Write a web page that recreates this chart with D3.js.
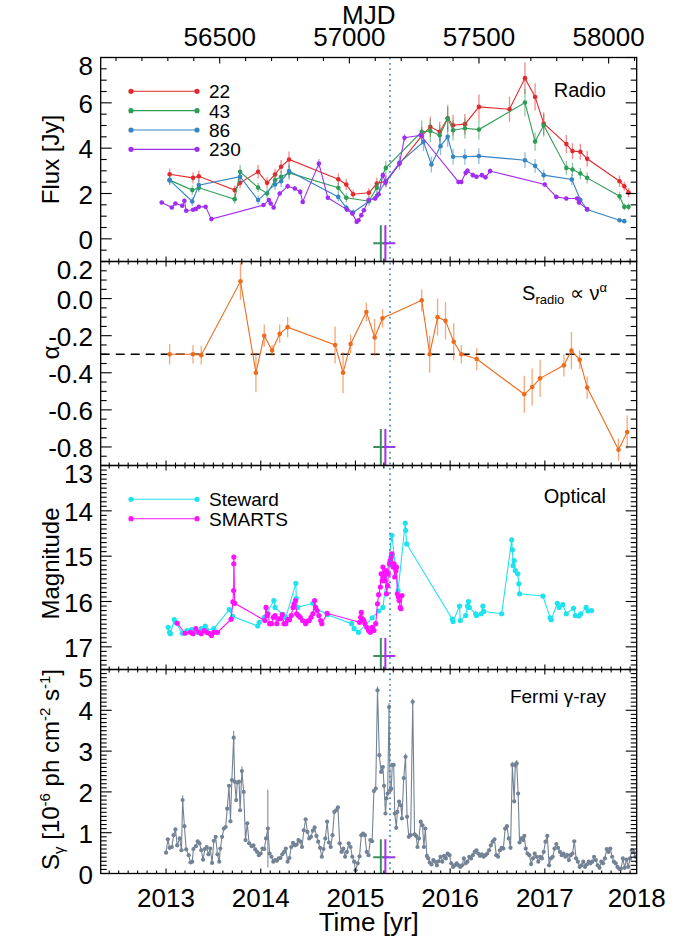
<!DOCTYPE html>
<html lang="en">
<head>
<meta charset="UTF-8">
<title>Radio / optical / gamma light curves</title>
<script src="https://d3js.org/d3.v7.min.js"></script>
<style>
  body { margin: 0; background: #fff; }
  svg { display: block; font-family: "Liberation Sans", Arial, Helvetica, sans-serif; }
  .frame { fill: none; stroke: #000; stroke-width: 1.3; }
  .tick { stroke: #000; stroke-width: 1.1; }
  .ticklabel { font-size: 26px; fill: #000; }
  .ytitle { font-size: 24px; fill: #000; }
  .plabel { font-size: 20px; fill: #000; }
  .leg { font-size: 19px; fill: #000; }
</style>
</head>
<body>
<svg width="691" height="941"></svg>
<script>
// ---- data: [year, value, error] ----
const radio22 = [[2013.038,2.85,0.25],[2013.285,2.69,0.25],[2013.346,2.76,0.25],[2013.725,2.15,0.2],[2013.782,2.47,0.25],
  [2013.972,2.96,0.3],[2014.067,2.47,0.25],[2014.151,2.84,0.25],[2014.215,3.18,0.3],[2014.299,3.50,0.35],
  [2014.819,2.63,0.25],[2014.903,2.40,0.25],[2014.975,1.97,0.2],[2015.142,2.03,0.2],[2015.226,2.44,0.25],
  [2015.321,2.54,0.25],[2015.700,4.54,0.4],[2015.791,4.94,0.45],[2015.890,4.72,0.45],[2015.974,5.32,0.5],
  [2016.031,5.01,0.45],[2016.156,5.06,0.45],[2016.304,5.82,0.55],[2016.627,5.72,0.55],[2016.790,7.09,0.7],
  [2016.897,6.26,0.6],[2016.988,5.09,0.5],[2017.227,4.18,0.4],[2017.292,3.87,0.35],[2017.375,3.84,0.35],
  [2017.447,3.53,0.35],[2017.789,2.54,0.25],[2017.839,2.32,0.2],[2017.884,2.04,0.2]];
const radio43 = [[2013.038,2.59,0.2],[2013.277,2.15,0.2],[2013.346,2.25,0.2],[2013.725,1.75,0.2],[2013.782,2.96,0.3],
  [2013.972,2.26,0.2],[2014.067,2.00,0.2],[2014.151,2.59,0.25],[2014.215,2.74,0.25],[2014.299,2.91,0.3],
  [2014.819,2.25,0.2],[2014.903,1.81,0.2],[2015.142,1.66,0.2],[2015.226,2.25,0.2],[2015.321,3.13,0.3],
  [2015.700,4.72,0.5],[2015.791,4.76,0.5],[2015.890,4.57,0.45],[2015.974,5.31,0.6],[2016.031,4.79,0.45],
  [2016.156,4.88,0.45],[2016.304,4.82,0.45],[2016.790,6.01,0.6],[2016.897,4.29,0.4],[2016.988,5.01,0.5],
  [2017.227,3.13,0.3],[2017.292,3.06,0.3],[2017.375,2.88,0.25],[2017.447,2.69,0.25],[2017.789,1.88,0.2],
  [2017.839,1.41,0.15],[2017.884,1.41,0.15]];
const radio86 = [[2013.038,2.59,0.2],[2013.277,1.65,0.2],[2013.346,2.37,0.25],[2013.782,2.74,0.25],[2013.972,1.71,0.2],
  [2014.151,2.40,0.25],[2014.215,2.54,0.25],[2014.299,2.99,0.3],[2014.819,1.85,0.2],[2014.903,1.37,0.15],
  [2014.975,1.16,0.15],[2015.226,1.90,0.2],[2015.321,2.54,0.25],[2015.465,3.35,0.3],[2015.719,4.28,0.4],
  [2015.802,3.28,0.35],[2015.898,4.09,0.4],[2015.974,4.50,0.45],[2016.031,3.62,0.35],[2016.156,3.62,0.35],
  [2016.304,3.65,0.35],[2016.790,3.47,0.35],[2016.897,3.22,0.3],[2016.988,2.81,0.25],[2017.285,2.62,0.25],
  [2017.375,1.71,0.15],[2017.447,1.29,0.1],[2017.789,0.82,0.05],[2017.839,0.78,0.05]];
const radio230 = [[2012.954,1.60,0.08],[2013.061,1.38,0.08],[2013.099,1.56,0.08],[2013.171,1.46,0.08],[2013.194,1.68,0.1],
  [2013.213,1.24,0.08],[2013.285,1.28,0.08],[2013.315,1.32,0.08],[2013.346,1.41,0.08],[2013.418,1.41,0.08],
  [2013.479,0.87,0.06],[2014.029,1.49,0.08],[2014.086,1.71,0.1],[2014.105,1.56,0.1],[2014.136,1.38,0.1],
  [2014.200,2.00,0.1],[2014.284,2.32,0.12],[2014.360,2.22,0.1],[2014.417,2.07,0.12],[2014.443,1.63,0.1],
  [2014.614,3.32,0.2],[2014.709,1.81,0.1],[2014.910,1.29,0.08],[2014.967,1.12,0.08],[2015.013,0.75,0.08],
  [2015.032,0.82,0.08],[2015.062,1.04,0.1],[2015.089,1.26,0.1],[2015.138,1.71,0.1],[2015.207,1.78,0.1],
  [2015.245,1.97,0.1],[2015.290,2.81,0.12],[2015.317,2.47,0.12],[2015.465,3.32,0.15],[2015.518,4.46,0.15],
  [2015.689,4.57,0.15],[2016.088,2.51,0.1],[2016.118,2.51,0.1],[2016.164,2.91,0.12],[2016.183,3.00,0.12],
  [2016.240,2.81,0.1],[2016.278,2.74,0.1],[2016.335,2.81,0.1],[2016.373,2.72,0.1],[2016.422,2.99,0.12],
  [2016.999,2.40,0.1],[2017.121,1.85,0.08],[2017.227,1.78,0.08],[2017.341,1.78,0.08],[2017.360,1.60,0.1],
  [2017.447,1.31,0.08]];
const radioBands = ["22", "43", "86", "230"];

const alphaData = [[2013.038,-0.30,0.055],[2013.285,-0.30,0.05],[2013.372,-0.305,0.05],[2013.786,0.093,0.1],
  [2013.949,-0.40,0.105],[2014.037,-0.20,0.06],[2014.120,-0.28,0.03],[2014.200,-0.19,0.05],[2014.284,-0.154,0.055],
  [2014.785,-0.25,0.1],[2014.869,-0.40,0.11],[2014.949,-0.245,0.05],[2015.115,-0.072,0.05],[2015.203,-0.21,0.1],
  [2015.286,-0.106,0.05],[2015.700,-0.009,0.06],[2015.784,-0.30,0.1],[2015.867,-0.10,0.1],[2015.951,-0.12,0.1],
  [2016.038,-0.233,0.1],[2016.118,-0.30,0.05],[2016.281,-0.326,0.06],[2016.783,-0.516,0.1],[2016.866,-0.477,0.1],
  [2016.950,-0.43,0.1],[2017.201,-0.36,0.06],[2017.281,-0.28,0.1],[2017.368,-0.33,0.05],[2017.447,-0.48,0.06],
  [2017.778,-0.815,0.06],[2017.869,-0.72,0.09]];
const alphaRef = -0.3;

const steward = [[2013.023,16.57],[2013.038,16.68],[2013.046,16.71],[2013.087,16.40],[2013.103,16.46],[2013.171,16.70],
  [2013.220,16.64],[2013.270,16.62],[2013.334,16.68],[2013.372,16.60],[2013.414,16.54],[2013.425,16.62],
  [2013.505,16.60],[2013.668,16.18],[2013.703,16.33],[2013.968,16.54],[2013.984,16.46],[2014.037,16.35],
  [2014.139,15.98],[2014.151,16.13],[2014.234,16.29],[2014.265,16.35],[2014.371,15.60],[2014.375,15.93],
  [2014.390,16.13],[2014.550,16.04],[2014.580,16.15],[2014.705,16.29],[2014.960,16.49],[2014.986,16.60],
  [2015.032,16.68],[2015.176,16.36],[2015.245,16.21],[2015.290,16.13],[2015.385,14.54],[2015.450,15.76],
  [2015.526,14.27],[2015.530,14.43],[2015.541,14.73],[2016.023,16.39],[2016.031,16.44],[2016.099,16.10],
  [2016.107,16.42],[2016.164,16.31],[2016.183,16.10],[2016.194,16.00],[2016.202,16.13],[2016.270,16.27],
  [2016.278,16.31],[2016.327,16.27],[2016.346,16.10],[2016.354,16.22],[2016.544,16.27],[2016.650,14.64],
  [2016.657,14.86],[2016.665,15.21],[2016.676,15.10],[2016.688,15.32],[2016.714,15.39],[2016.726,15.61],
  [2016.733,15.83],[2016.980,15.88],[2017.056,16.36],[2017.068,16.40],[2017.132,16.04],[2017.151,16.13],
  [2017.189,16.07],[2017.227,16.27],[2017.303,16.15],[2017.322,16.31],[2017.360,16.32],[2017.379,16.27],
  [2017.436,16.13],[2017.455,16.21],[2017.493,16.20]];
const smarts = [[2013.118,16.48],[2013.201,16.70],[2013.258,16.68],[2013.285,16.71],[2013.315,16.60],[2013.346,16.68],
  [2013.372,16.71],[2013.403,16.64],[2013.429,16.68],[2013.456,16.70],[2013.479,16.75],[2013.505,16.68],
  [2013.543,16.68],[2013.687,16.39],[2013.706,16.01],[2013.714,15.76],[2013.715,15.17],[2013.716,15.02],
  [2013.725,16.04],[2014.044,16.42],[2014.056,16.13],[2014.067,16.31],[2014.075,16.27],[2014.094,16.49],
  [2014.113,16.49],[2014.132,16.35],[2014.151,16.31],[2014.170,16.49],[2014.189,16.38],[2014.208,16.38],
  [2014.227,16.29],[2014.246,16.49],[2014.265,16.49],[2014.284,16.40],[2014.303,16.40],[2014.322,16.31],
  [2014.341,16.13],[2014.352,16.05],[2014.367,15.98],[2014.379,16.27],[2014.398,16.31],[2014.417,16.35],
  [2014.443,16.42],[2014.474,16.49],[2014.493,16.43],[2014.512,16.42],[2014.531,16.35],[2014.550,16.27],
  [2014.569,15.98],[2014.580,16.13],[2014.595,16.20],[2014.614,16.31],[2014.633,16.42],[2014.645,16.49],
  [2014.701,16.26],[2015.043,16.46],[2015.055,16.35],[2015.062,16.24],[2015.074,16.38],[2015.089,16.42],
  [2015.100,16.49],[2015.119,16.57],[2015.138,16.64],[2015.157,16.68],[2015.176,16.57],[2015.195,16.64],
  [2015.214,16.49],[2015.233,16.05],[2015.245,15.85],[2015.263,15.68],[2015.271,15.39],[2015.283,15.54],
  [2015.290,15.24],[2015.302,15.43],[2015.309,15.54],[2015.321,15.32],[2015.328,15.83],[2015.340,15.65],
  [2015.347,15.39],[2015.359,15.17],[2015.366,15.10],[2015.378,15.02],[2015.385,14.95],[2015.397,15.24],
  [2015.408,15.17],[2015.415,15.46],[2015.427,15.32],[2015.434,15.24],[2015.442,15.83],[2015.453,15.90],
  [2015.461,15.98],[2015.473,16.13],[2015.480,16.16],[2015.491,15.87]];

const gammaData = [[2013.000,0.51],[2013.019,0.84],[2013.038,0.63],[2013.061,0.65],[2013.080,0.94],[2013.099,1.08],[2013.118,0.69],[2013.144,0.86],[2013.163,0.57],[2013.175,1.80],[2013.194,1.16],[2013.213,0.59],[2013.239,0.45],[2013.258,0.27],[2013.277,0.29],[2013.289,0.60],[2013.315,0.67],[2013.334,0.79],[2013.353,0.74],[2013.372,0.57],[2013.391,0.34],[2013.410,0.60],[2013.429,0.65],[2013.448,0.47],[2013.467,0.61],[2013.486,0.26],[2013.505,0.80],[2013.524,0.90],[2013.543,0.47],[2013.562,0.29],[2013.573,0.61],[2013.592,0.90],[2013.611,1.10],[2013.630,1.14],[2013.646,1.59],[2013.665,2.15],[2013.680,1.28],[2013.695,2.29],[2013.714,3.33],[2013.725,2.25],[2013.741,1.80],[2013.752,2.23],[2013.771,2.25],[2013.782,1.55],[2013.801,2.51],[2013.820,2.00],[2013.839,0.82],[2013.858,1.23],[2013.877,0.74],[2013.904,0.67],[2013.923,0.69],[2013.942,0.59],[2013.961,0.53],[2013.980,0.45],[2013.999,0.49],[2014.018,0.61],[2014.037,0.60],[2014.056,0.86],[2014.075,1.10],[2014.094,0.49],[2014.113,0.41],[2014.132,0.29],[2014.151,0.33],[2014.170,0.31],[2014.189,0.37],[2014.208,0.38],[2014.227,0.47],[2014.246,0.53],[2014.265,0.61],[2014.284,0.29],[2014.303,0.38],[2014.322,0.65],[2014.341,0.75],[2014.360,0.69],[2014.379,0.71],[2014.398,0.82],[2014.417,0.78],[2014.436,0.65],[2014.455,1.06],[2014.474,1.33],[2014.493,1.02],[2014.512,0.86],[2014.531,0.90],[2014.550,1.05],[2014.569,1.13],[2014.588,0.92],[2014.607,0.78],[2014.626,0.63],[2014.645,0.41],[2014.663,0.60],[2014.682,0.86],[2014.701,1.27],[2014.720,0.76],[2014.739,0.65],[2014.758,0.94],[2014.777,1.51],[2014.796,1.55],[2014.815,1.62],[2014.834,0.74],[2014.853,0.53],[2014.872,0.61],[2014.891,0.41],[2014.910,0.53],[2014.929,0.74],[2014.948,0.65],[2014.967,0.41],[2014.986,0.29],[2015.001,0.08],[2015.024,0.25],[2015.043,0.42],[2015.062,0.94],[2015.081,0.98],[2015.100,0.94],[2015.119,0.53],[2015.138,0.45],[2015.157,0.82],[2015.176,0.79],[2015.195,2.02],[2015.214,2.08],[2015.233,4.49],[2015.252,2.90],[2015.271,2.49],[2015.290,2.61],[2015.302,2.15],[2015.317,1.47],[2015.328,1.84],[2015.340,1.96],[2015.355,4.08],[2015.366,2.04],[2015.378,2.08],[2015.389,2.66],[2015.404,2.66],[2015.415,1.47],[2015.431,1.12],[2015.442,1.51],[2015.461,1.76],[2015.480,1.67],[2015.491,1.35],[2015.510,2.34],[2015.529,2.86],[2015.545,1.39],[2015.564,0.90],[2015.583,0.94],[2015.605,4.21],[2015.624,0.96],[2015.640,0.92],[2015.655,0.65],[2015.670,0.86],[2015.689,1.27],[2015.708,1.18],[2015.723,0.65],[2015.738,1.10],[2015.754,0.43],[2015.769,0.37],[2015.784,0.27],[2015.803,0.22],[2015.822,0.33],[2015.841,0.29],[2015.860,0.20],[2015.879,0.30],[2015.898,0.41],[2015.917,0.29],[2015.936,0.43],[2015.955,0.37],[2015.974,0.49],[2015.993,0.45],[2016.012,0.25],[2016.031,0.16],[2016.050,0.20],[2016.069,0.25],[2016.088,0.20],[2016.107,0.16],[2016.126,0.20],[2016.145,0.37],[2016.164,0.25],[2016.183,0.29],[2016.202,0.41],[2016.221,0.37],[2016.240,0.45],[2016.259,0.53],[2016.278,0.57],[2016.297,0.49],[2016.316,0.43],[2016.335,0.47],[2016.354,0.41],[2016.373,0.45],[2016.392,0.49],[2016.411,0.57],[2016.430,0.69],[2016.449,0.78],[2016.468,0.84],[2016.487,0.45],[2016.506,0.41],[2016.525,0.57],[2016.544,0.63],[2016.562,0.61],[2016.581,1.10],[2016.600,1.16],[2016.619,0.86],[2016.638,0.63],[2016.657,2.66],[2016.676,1.77],[2016.688,2.66],[2016.703,2.70],[2016.718,1.96],[2016.733,0.76],[2016.752,0.86],[2016.771,0.82],[2016.783,0.92],[2016.798,0.61],[2016.817,0.49],[2016.836,0.45],[2016.855,0.23],[2016.874,0.37],[2016.893,0.49],[2016.912,0.41],[2016.931,0.29],[2016.950,0.41],[2016.969,0.37],[2016.988,0.53],[2017.007,0.78],[2017.026,0.92],[2017.045,0.20],[2017.064,0.37],[2017.083,0.41],[2017.102,0.61],[2017.121,0.72],[2017.140,0.63],[2017.159,0.53],[2017.178,0.45],[2017.197,0.49],[2017.216,0.41],[2017.235,0.45],[2017.254,0.33],[2017.273,0.45],[2017.292,0.49],[2017.311,0.79],[2017.330,0.37],[2017.349,0.29],[2017.368,0.16],[2017.387,0.20],[2017.406,0.29],[2017.425,0.16],[2017.444,0.22],[2017.463,0.29],[2017.482,0.25],[2017.501,0.29],[2017.520,0.41],[2017.539,0.33],[2017.558,0.20],[2017.577,0.14],[2017.596,0.29],[2017.615,0.25],[2017.634,0.37],[2017.653,0.60],[2017.672,0.53],[2017.691,0.61],[2017.710,0.41],[2017.729,0.29],[2017.748,0.25],[2017.767,0.16],[2017.786,0.11],[2017.805,0.12],[2017.824,0.37],[2017.843,0.14],[2017.862,0.34],[2017.881,0.16],[2017.900,0.37],[2017.919,0.57],[2017.938,0.53],[2017.957,0.41],[2017.976,0.29]];
// the few gamma points with visibly long error bars: [year, value, error]
const gammaErrBars = [[2013.175,1.80,0.12],[2013.714,3.33,0.16],[2013.801,2.51,0.12],[2014.075,1.10,0.95],
  [2015.233,4.49,0.1],[2015.355,4.08,0.1],[2015.605,4.21,0.08],[2015.529,2.86,0.08],[2016.657,2.66,0.08],
  [2016.688,2.66,0.08],[2016.703,2.70,0.08]];

// ejection epochs of two jet components: [centre, left end, right end]
const ejections = [[2015.268, 2015.188, 2015.347], [2015.316, 2015.292, 2015.421]];
const ejectionLevels = [-0.2, -0.8, 17.2, 0.4];   // one per panel
const markerEpoch = 2015.365;

// ticks
const yearTicks = [2013, 2014, 2015, 2016, 2017, 2018];
const mjdTicks = [56500, 57000, 57500, 58000];
const fluxTicks = [0, 2, 4, 6, 8];
const alphaTicks = [-0.8, -0.6, -0.4, -0.2, 0.0, 0.2];
const magTicks = [13, 14, 15, 16, 17];
const gammaTicks = [0, 1, 2, 3, 4, 5];

// ---- layout ----
const svg = d3.select("svg");
const X0 = 100.7, X1 = 636.7;
const x = d3.scaleLinear().domain([2012.31, 2017.97]).range([X0, X1]);
const mjdToYear = m => 2013 + (m - 56293) / 365.25;

const yFlux = d3.scaleLinear().domain([-1, 8]).range([261.5, 57.5]);
const yAlpha = d3.scaleLinear().domain([-0.9, 0.2]).range([465.5, 261.5]);
const yMag = d3.scaleLinear().domain([13, 17.5]).range([465.5, 669.5]);
const yGam = d3.scaleLinear().domain([0, 5]).range([873.5, 669.5]);

const panels = [
  {y: yFlux, ticks: fluxTicks, minor: 0.5, fmt: d => d3.format("d")(d), title: "Flux [Jy]", titleShift: 0},
  {y: yAlpha, ticks: alphaTicks, minor: 0.05, fmt: d => (Math.abs(d) < 1e-9 ? 0 : d).toFixed(1), title: "α", titleShift: -11},
  {y: yMag, ticks: magTicks, minor: 0.1, fmt: d => d3.format("d")(d), title: "Magnitude", titleShift: -4},
  {y: yGam, ticks: gammaTicks, minor: 0.1, fmt: d => d3.format("d")(d), title: null, titleShift: -2}
];

const colors = {"22": "#e3292b", "43": "#2f9e55", "86": "#3585c5", "230": "#a02ef0"};
const radioData = {"22": radio22, "43": radio43, "86": radio86, "230": radio230};

panels.forEach((p, i) => {
  const r = p.y.range();
  p.top = Math.min(r[0], r[1]);
  p.bottom = Math.max(r[0], r[1]);
  svg.append("clipPath").attr("id", "clip" + i)
    .append("rect").attr("x", X0).attr("y", p.top).attr("width", X1 - X0).attr("height", p.bottom - p.top);
  p.g = svg.append("g").attr("clip-path", `url(#clip${i})`);
});

function drawSeries(g, y, data, color, r, errOpacity) {
  g.append("g").selectAll("line")
    .data(data.filter(d => d[2] != null))
    .join("line")
    .attr("x1", d => x(d[0])).attr("x2", d => x(d[0]))
    .attr("y1", d => y(d[1] - d[2])).attr("y2", d => y(d[1] + d[2]))
    .attr("stroke", color).attr("stroke-opacity", errOpacity).attr("stroke-width", 1.3);
  g.append("path").datum(data)
    .attr("fill", "none").attr("stroke", color).attr("stroke-width", 1.1)
    .attr("d", d3.line().x(d => x(d[0])).y(d => y(d[1])));
  g.append("g").selectAll("circle")
    .data(data)
    .join("circle")
    .attr("cx", d => x(d[0])).attr("cy", d => y(d[1]))
    .attr("r", r).attr("fill", color);
}

// panel 1: radio
radioBands.forEach(b => drawSeries(panels[0].g, yFlux, radioData[b], colors[b], 2.3, 0.55));

// panel 2: spectral index
panels[1].g.append("line")
  .attr("x1", X0).attr("x2", X1).attr("y1", yAlpha(alphaRef)).attr("y2", yAlpha(alphaRef))
  .attr("stroke", "#000").attr("stroke-width", 1.3).attr("stroke-dasharray", "9,6");
drawSeries(panels[1].g, yAlpha, alphaData, "#f06a1c", 2.3, 0.6);

// panel 3: optical
drawSeries(panels[2].g, yMag, steward, "#1ee3ee", 2.6, 0.6);
drawSeries(panels[2].g, yMag, smarts, "#ff12ff", 2.6, 0.6);

// panel 4: gamma
panels[3].g.append("g").selectAll("line")
  .data(gammaErrBars).join("line")
  .attr("x1", d => x(d[0])).attr("x2", d => x(d[0]))
  .attr("y1", d => yGam(d[1] - d[2])).attr("y2", d => yGam(d[1] + d[2]))
  .attr("stroke", "#8a98a6").attr("stroke-width", 1.2);
drawSeries(panels[3].g, yGam, gammaData, "#738294", 2.1, 0.6);

// ejection crosses + dotted marker line
const crossColors = ["#3e8f5c", "#a52ff2"];
panels.forEach((p, i) => {
  const lvl = ejectionLevels[i];
  ejections.forEach((e, k) => {
    const cy = p.y(lvl);
    p.g.append("line").attr("x1", x(e[1])).attr("x2", x(e[2])).attr("y1", cy).attr("y2", cy)
      .attr("stroke", crossColors[k]).attr("stroke-width", 2);
    p.g.append("line").attr("x1", x(e[0])).attr("x2", x(e[0])).attr("y1", cy - 18).attr("y2", cy + 18)
      .attr("stroke", crossColors[k]).attr("stroke-width", 2);
  });
});
svg.append("line")
  .attr("x1", x(markerEpoch)).attr("x2", x(markerEpoch))
  .attr("y1", panels[0].top).attr("y2", panels[3].bottom)
  .attr("stroke", "#3f86c8").attr("stroke-width", 1.6).attr("stroke-dasharray", "1.8,3.6");

// ---- frames, ticks, labels ----
const axes = svg.append("g");
const yearMinor = d3.range(2012.4, 2018.0, 0.1).map(v => Math.round(v * 10) / 10);

panels.forEach((p, i) => {
  axes.append("rect").attr("class", "frame")
    .attr("x", X0).attr("y", p.top).attr("width", X1 - X0).attr("height", p.bottom - p.top);

  // y ticks on both sides
  const d = p.y.domain();
  const lo = Math.min(d[0], d[1]), hi = Math.max(d[0], d[1]);
  const minors = d3.range(Math.ceil(lo / p.minor - 1e-6), Math.floor(hi / p.minor + 1e-6) + 1)
    .map(k => k * p.minor);
  minors.forEach(v => {
    const major = p.ticks.some(t => Math.abs(t - v) < 1e-6);
    const len = major ? 11 : 6;
    const yy = p.y(v);
    axes.append("line").attr("class", "tick").attr("x1", X0).attr("x2", X0 + len).attr("y1", yy).attr("y2", yy);
    axes.append("line").attr("class", "tick").attr("x1", X1).attr("x2", X1 - len).attr("y1", yy).attr("y2", yy);
  });
  p.ticks.forEach(v => {
    const yy = p.y(v);
    const atTop = Math.abs(yy - p.top) < 1;
    axes.append("text").attr("class", "ticklabel")
      .attr("x", 93).attr("y", atTop ? yy + 17 : yy + 10)
      .attr("text-anchor", "end").text(p.fmt(v));
  });

  // x ticks: bottom of each panel (up), top of panels 2-4 (down)
  yearMinor.forEach(v => {
    const major = Math.abs(v - Math.round(v)) < 1e-6;
    const len = major ? 5 : 3;
    const xx = x(v);
    if (xx < X0 || xx > X1) return;
    axes.append("line").attr("class", "tick").attr("x1", xx).attr("x2", xx)
      .attr("y1", p.bottom).attr("y2", p.bottom - len);
    if (i > 0) axes.append("line").attr("class", "tick").attr("x1", xx).attr("x2", xx)
      .attr("y1", p.top).attr("y2", p.top + len);
  });
});

// top MJD ticks
d3.range(56100, 58101, 100).forEach(m => {
  const xx = x(mjdToYear(m));
  if (xx < X0 || xx > X1) return;
  const len = m % 500 === 0 ? 6 : 3.5;
  axes.append("line").attr("class", "tick").attr("x1", xx).attr("x2", xx)
    .attr("y1", panels[0].top).attr("y2", panels[0].top + len);
});
mjdTicks.forEach(m => {
  axes.append("text").attr("class", "ticklabel").attr("x", x(mjdToYear(m))).attr("y", 46)
    .attr("text-anchor", "middle").text(m);
});
axes.append("text").attr("x", (X0 + X1) / 2).attr("y", 24).attr("text-anchor", "middle")
  .style("font-size", "26px").text("MJD");

yearTicks.forEach(t => {
  axes.append("text").attr("class", "ticklabel").attr("x", Math.min(x(t), X1)).attr("y", 907)
    .attr("text-anchor", "middle").text(t);
});
axes.append("text").attr("x", (X0 + X1) / 2).attr("y", 931).attr("text-anchor", "middle")
  .style("font-size", "26px").text("Time [yr]");

// y titles
panels.forEach((p, i) => {
  const cy = (p.top + p.bottom) / 2 + p.titleShift;
  const t = axes.append("text").attr("class", "ytitle")
    .attr("transform", `translate(59,${cy}) rotate(-90)`).attr("text-anchor", "middle");
  if (p.title) { t.text(p.title); return; }
  t.append("tspan").text("S");
  t.append("tspan").attr("dy", 5).style("font-size", "15px").text("γ");
  t.append("tspan").attr("dy", -5).text(" [10");
  t.append("tspan").attr("dy", -9).style("font-size", "15px").text("-6");
  t.append("tspan").attr("dy", 9).text(" ph cm");
  t.append("tspan").attr("dy", -9).style("font-size", "15px").text("-2");
  t.append("tspan").attr("dy", 9).text(" s");
  t.append("tspan").attr("dy", -9).style("font-size", "15px").text("-1");
  t.append("tspan").attr("dy", 9).text("]");
});

// panel labels
axes.append("text").attr("class", "plabel").attr("x", 606).attr("y", 97).attr("text-anchor", "end").text("Radio");
const sr = axes.append("text").attr("class", "plabel").attr("x", 607).attr("y", 300).attr("text-anchor", "end");
sr.append("tspan").text("S");
sr.append("tspan").attr("dy", 4).style("font-size", "13px").text("radio");
sr.append("tspan").attr("dy", -4).text(" ∝ ν");
sr.append("tspan").attr("dy", -8).style("font-size", "13px").text("α");
axes.append("text").attr("class", "plabel").attr("x", 606).attr("y", 503).attr("text-anchor", "end").text("Optical");
axes.append("text").attr("class", "plabel").attr("x", 606).attr("y", 703).attr("text-anchor", "end")
  .style("font-size", "19px").text("Fermi γ-ray");

// legends
function legend(items, y0, step) {
  items.forEach((it, k) => {
    const yy = y0 + k * step;
    axes.append("line").attr("x1", 131).attr("x2", 197).attr("y1", yy).attr("y2", yy)
      .attr("stroke", it.color).attr("stroke-width", 1.1);
    [131, 197].forEach(xx => axes.append("circle").attr("cx", xx).attr("cy", yy).attr("r", 2.6).attr("fill", it.color));
    axes.append("text").attr("class", "leg").attr("x", 209).attr("y", yy + 7).text(it.label);
  });
}
legend(radioBands.map(b => ({label: b, color: colors[b]})), 91.3, 19.35);
legend([{label: "Steward", color: "#1ee3ee"}, {label: "SMARTS", color: "#ff12ff"}], 499.3, 19.4);
</script>
</body>
</html>
